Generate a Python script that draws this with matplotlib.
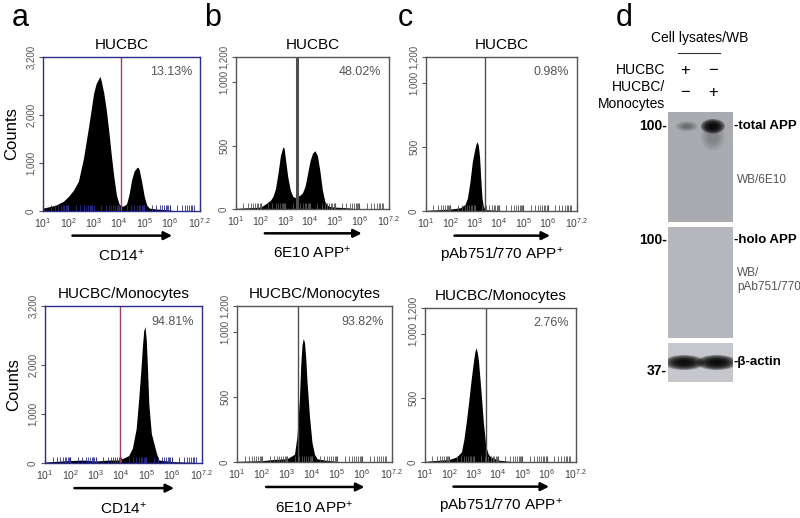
import matplotlib.pyplot as plt
import numpy as np
from matplotlib.patches import Ellipse
from matplotlib.ticker import LogLocator, NullFormatter

plt.rcParams["font.family"] = ["Liberation Sans", "DejaVu Sans"]
plt.rcParams["mathtext.fontset"] = "custom"
plt.rcParams["mathtext.rm"] = "Liberation Sans"
plt.rcParams["mathtext.it"] = "Liberation Sans:italic"
plt.rcParams["mathtext.bf"] = "Liberation Sans:bold"

W, H = 800, 518

# flow cytometry histograms: log10(fluorescence) and counts
a_top_x = [1.0, 1.5, 1.8, 2.0, 2.2, 2.4, 2.6, 2.8, 3.0, 3.1, 3.2, 3.25, 3.3, 3.4, 3.5, 3.6, 3.7, 3.8, 3.9, 4.0,
           4.1, 4.2, 4.3, 4.4, 4.5, 4.6, 4.7, 4.75, 4.8, 4.9, 5.0, 5.1, 5.2, 5.5, 6.0, 6.3]
a_top_y = [60, 120, 200, 300, 430, 620, 1100, 1750, 2450, 2650, 2750, 2800, 2700, 2450, 2100, 1650, 1150, 700, 330, 150,
           100, 110, 150, 350, 650, 830, 900, 910, 860, 600, 300, 120, 60, 40, 20, 0]
a_bot_x = [1.0, 2.0, 2.5, 3.0, 3.5, 3.9, 4.1, 4.3, 4.45, 4.6, 4.7, 4.8, 4.85, 4.9, 4.95, 5.0, 5.05, 5.1, 5.2, 5.3,
           5.4, 5.5, 6.0, 7.0]
a_bot_y = [20, 50, 60, 40, 60, 60, 100, 150, 300, 700, 1300, 2000, 2400, 2700, 2780, 2500, 1900, 1200, 600, 400,
           200, 60, 30, 10]
b_top_x = [1.0, 2.0, 2.2, 2.4, 2.5, 2.6, 2.7, 2.8, 2.9, 2.95, 3.0, 3.1, 3.2, 3.3, 3.4, 3.5, 3.6, 3.7, 3.8, 3.9,
           4.0, 4.1, 4.2, 4.3, 4.4, 4.5, 4.6, 4.7, 4.8, 5.0, 5.5, 6.0]
b_top_y = [5, 15, 40, 70, 100, 160, 280, 420, 490, 480, 400, 250, 150, 100, 90, 100, 110, 130, 180, 280,
           380, 440, 460, 420, 300, 150, 60, 30, 20, 15, 10, 0]
b_bot_x = [1.0, 2.0, 2.5, 3.0, 3.3, 3.4, 3.5, 3.55, 3.6, 3.65, 3.7, 3.75, 3.8, 3.9, 4.0, 4.1, 4.2, 4.5, 5.0]
b_bot_y = [5, 10, 20, 25, 60, 200, 500, 750, 900, 950, 920, 800, 620, 350, 150, 60, 25, 15, 5]
c_top_x = [1.0, 2.0, 2.4, 2.6, 2.7, 2.8, 2.9, 3.0, 3.05, 3.1, 3.15, 3.2, 3.25, 3.3, 3.35, 3.4, 3.5, 4.0, 5.0]
c_top_y = [5, 15, 25, 50, 100, 220, 380, 480, 520, 540, 510, 420, 250, 100, 40, 20, 10, 5, 0]
c_bot_x = [1.0, 2.0, 2.3, 2.5, 2.6, 2.7, 2.8, 2.9, 3.0, 3.05, 3.1, 3.15, 3.2, 3.3, 3.4, 3.5, 3.6, 3.7, 4.0, 4.5]
c_bot_y = [5, 20, 40, 80, 180, 320, 480, 650, 800, 860, 890, 850, 780, 550, 300, 120, 60, 40, 15, 5]

gates = [4.1, 3.47, 3.42, 3.95, 3.44, 3.5]
percents = ["13.13%", "48.02%", "0.98%", "94.81%", "93.82%", "2.76%"]
titles = ["HUCBC"] * 3 + ["HUCBC/Monocytes"] * 3
xlabels = ["CD14$^{+}$", "6E10 APP$^{+}$", "pAb751/770 APP$^{+}$"] * 2
x_tick_pos = [1, 2, 3, 4, 5, 6, 7.2]
x_tick_lab = ["1", "2", "3", "4", "5", "6", "7.2"]
yticks_a = [0, 1000, 2000, 3200]
yticks_bc = [0, 500, 1000, 1200]

# western blot band intensities (0 = none, 1 = saturated)
lanes = ["HUCBC", "HUCBC/Monocytes"]
total_app = [0.18, 1.0]
holo_app = [0.0, 0.0]
beta_actin = [0.95, 1.0]


def px(x0, y0, x1, y1):
    return [x0 / W, 1 - y1 / H, (x1 - x0) / W, (y1 - y0) / H]


fig = plt.figure(figsize=(8, 5.18), dpi=100)

boxes = [(43, 57, 200, 211), (236, 57, 389, 209), (426, 57, 577, 211),
         (45, 306, 202, 463), (237, 306, 392, 462), (425, 308, 576, 462)]
data = [(a_top_x, a_top_y), (b_top_x, b_top_y), (c_top_x, c_top_y),
        (a_bot_x, a_bot_y), (b_bot_x, b_bot_y), (c_bot_x, c_bot_y)]

for i, (box, (hx, hy)) in enumerate(zip(boxes, data)):
    ax = fig.add_axes(px(*box))
    col = i % 3
    spine_c = "#2c2c8c" if col == 0 else "#555555"
    gate_c = "#a0406a" if col == 0 else "#505050"
    ax.fill_between(10 ** np.array(hx), hy, color="black", lw=0)
    ax.set_xscale("log")
    ax.set_xlim(10, 10 ** 7.2)
    ax.axvline(10 ** gates[i], color=gate_c, lw=2.2 if i == 1 else 1.0)
    if col == 0:
        ax.set_ylim(0, 3200)
        ax.set_yticks(yticks_a)
        ax.set_yticklabels(["{:,}".format(v) for v in yticks_a])
        ax.set_ylabel("Counts", fontsize=12, labelpad=5)
    else:
        ax.set_ylim(0, 1200)
        ax.set_yticks(yticks_bc)
        ax.set_yticklabels(["{:,}".format(v) for v in yticks_bc])
    for lab in ax.get_yticklabels():
        lab.set_rotation(90)
        lab.set_va("center")
    ax.set_xticks([10 ** v for v in x_tick_pos])
    ax.set_xticklabels(["$10^{%s}$" % t for t in x_tick_lab])
    ax.xaxis.set_minor_locator(LogLocator(subs=np.arange(2, 10), numticks=20))
    ax.xaxis.set_minor_formatter(NullFormatter())
    ax.tick_params(axis="x", which="both", direction="in", length=4, colors=spine_c,
                   labelcolor="#444444", labelsize=7.5, pad=4)
    ax.tick_params(axis="y", length=3, colors="#555555", labelcolor="#555555", labelsize=7, pad=2)
    for s in ax.spines.values():
        s.set_color(spine_c)
        s.set_linewidth(1.0)
    ax.set_title(titles[i], fontsize=11, pad=6)
    ax.text(0.95, 0.9, percents[i], transform=ax.transAxes, ha="right", va="center",
            fontsize=9, color="#555555")
    ax.annotate("", xy=(0.84, -0.16), xytext=(0.17, -0.16), xycoords="axes fraction",
                arrowprops=dict(arrowstyle="-|>", color="black", lw=1.8, mutation_scale=12),
                annotation_clip=False)
    ax.text(0.5, -0.29, xlabels[i], transform=ax.transAxes, ha="center", va="center", fontsize=11)

# panel letters
for lab, x in zip("abcd", [20, 213, 405, 624]):
    fig.text(x / W, 1 - 18 / H, lab, fontsize=22, ha="center", va="center")

# western blot panel d
fig.text(700 / W, 1 - 38 / H, "Cell lysates/WB", fontsize=10, ha="center", va="center")
fig.add_artist(plt.Line2D([678 / W, 720 / W], [1 - 53 / H, 1 - 53 / H], color="#333333", lw=0.8))
fig.text(665 / W, 1 - 70 / H, "HUCBC", fontsize=10, ha="right", va="center")
fig.text(665 / W, 1 - 87 / H, "HUCBC/", fontsize=10, ha="right", va="center")
fig.text(665 / W, 1 - 104 / H, "Monocytes", fontsize=10, ha="right", va="center")
for x, s1, s2 in zip([685, 713], ["+", "\u2212"], ["\u2212", "+"]):
    fig.text(x / W, 1 - 70 / H, s1, fontsize=12, ha="center", va="center")
    fig.text(x / W, 1 - 93 / H, s2, fontsize=12, ha="center", va="center")

blots = [((668, 112, 733, 222), "#a9abb0", total_app, 0.87, 0.09),
         ((668, 227, 733, 338), "#b5b7bc", holo_app, 0.88, 0.09),
         ((668, 343, 733, 382), "#c6c7cc", beta_actin, 0.5, 0.26)]
lane_x = [0.58, 1.38]
for k, (box, bg, vals, yb, hb) in enumerate(blots):
    bx = fig.add_axes(px(*box))
    bx.set_facecolor(bg)
    bx.set_xlim(0, 2)
    bx.set_ylim(0, 1)
    bx.set_xticks([])
    bx.set_yticks([])
    for s in bx.spines.values():
        s.set_visible(False)
    for j, (lx, v) in enumerate(zip(lane_x, vals)):
        if v <= 0:
            continue
        if k == 2:
            cx, wide, hh = [0.5, 1.5][j], 1.25, hb
        elif v > 0.5:
            cx, wide, hh = lx, 0.75, hb
        else:
            cx, wide, hh = lx, 0.7, hb * 0.7
        # faint smear below the strong band
        if k == 0 and v > 0.5:
            for f in np.linspace(1.0, 0.4, 6):
                bx.add_patch(Ellipse((cx, yb - 0.1), wide * f, 0.25 * f, color="black", alpha=0.04, lw=0))
        for f in np.linspace(1.0, 0.3, 8):
            bx.add_patch(Ellipse((cx, yb), wide * f, hh * 1.5 * f, color="black",
                                 alpha=min(1, v * 0.28), lw=0))

fig.text(667 / W, 1 - 126 / H, "100-", fontsize=10, fontweight="bold", ha="right", va="center")
fig.text(734 / W, 1 - 126 / H, "-total APP", fontsize=9.5, fontweight="bold", ha="left", va="center")
fig.text(737 / W, 1 - 180 / H, "WB/6E10", fontsize=8.5, color="#555555", ha="left", va="center")
fig.text(667 / W, 1 - 240 / H, "100-", fontsize=10, fontweight="bold", ha="right", va="center")
fig.text(734 / W, 1 - 240 / H, "-holo APP", fontsize=9.5, fontweight="bold", ha="left", va="center")
fig.text(737 / W, 1 - 273 / H, "WB/", fontsize=8.5, color="#555555", ha="left", va="center")
fig.text(737 / W, 1 - 287 / H, "pAb751/770", fontsize=8.5, color="#555555", ha="left", va="center")
fig.text(734 / W, 1 - 362 / H, "-\u03b2-actin", fontsize=9.5, fontweight="bold", ha="left", va="center")
fig.text(667 / W, 1 - 371 / H, "37-", fontsize=10, fontweight="bold", ha="right", va="center")

fig.savefig("out.png", dpi=100)
